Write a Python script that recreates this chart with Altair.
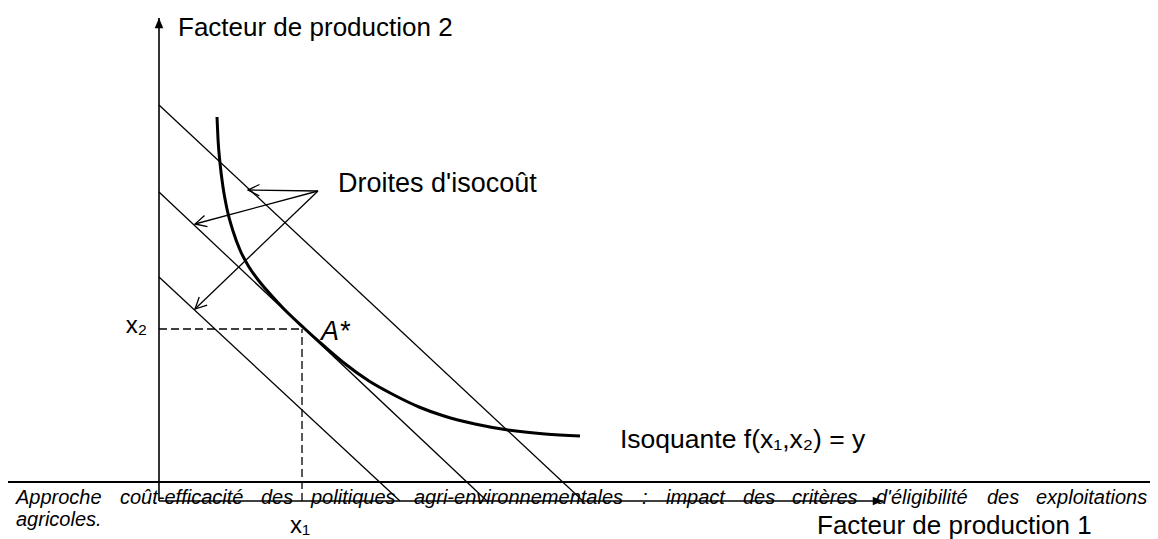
import altair as alt
import pandas as pd

# ---------------- canvas (diagram units: origin at the axes' corner) ----------------
W, H = 1142, 531
XD = [-151, 991]
YD = [-38, 493]

# ---------------- data ----------------
# isocost lines: intercepts on the factor-2 axis (v0) and the factor-1 axis (u0)
isocost_v0 = [396, 309, 224]
isocost_u0 = [424, 328, 241]

# isoquant f(x1,x2) = y
curve_u = [58, 59, 61, 64, 68, 74, 81, 90, 100, 112, 125, 145, 165, 185, 210, 235, 260, 285, 316, 349, 386, 421]
curve_v = [384, 362, 338, 314, 292, 270, 251, 234, 220, 206, 192, 173, 155, 138, 120, 106, 94, 85, 77, 71, 67, 65]

# optimum A* (dashed projections)
opt_u, opt_v = 143, 172

# arrows "Droites d'isocoût": common origin and tips on each line
arrow_from = (159, 310)
arrow_tip_u = [89, 36, 36]
arrow_tip_v = [311, 277, 192]
arrow_angle = [181, 165, 136]

# axes
yaxis_top = 483
xaxis_end = 724

# footer text (document running footer, justified)
footer_words = ["Approche", "coût-efficacité", "des", "politiques", "agri-environnementales", ":",
                "impact", "des", "critères", "d'éligibilité", "des", "exploitations"]
footer_u = [-143, -39, 102, 152, 255, 483, 507, 584, 633, 717, 828, 877]
footer_line2 = "agricoles."

FONT = "Liberation Sans"

# ---------------- tables ----------------
iso_df = pd.DataFrame({"u": [0] * 3, "v": isocost_v0, "u2": isocost_u0, "v2": [0] * 3})
curve_df = pd.DataFrame({"u": curve_u, "v": curve_v})
arrow_df = pd.DataFrame({
    "u": [arrow_from[0]] * 3, "v": [arrow_from[1]] * 3,
    "u2": arrow_tip_u, "v2": arrow_tip_v, "ang": arrow_angle,
})
dash_df = pd.DataFrame({"u": [0, opt_u], "v": [opt_v, 0], "u2": [opt_u, opt_u], "v2": [opt_v, opt_v]})
axes_df = pd.DataFrame({"u": [0, 0], "v": [0, 0], "u2": [0, xaxis_end], "v2": [yaxis_top, 0]})
axhead_df = pd.DataFrame({"u": [0, xaxis_end], "v": [yaxis_top, 0], "ang": [270, 0]})
rule_df = pd.DataFrame({"u": [-151], "v": [19], "u2": [991], "v2": [19]})

big_df = pd.DataFrame({
    "t": ["Facteur de production 2", "Facteur de production 1"],
    "u": [19, 658],
    "v": [465, -33],
})
droites_df = pd.DataFrame({"t": ["Droites d'isocoût"], "u": [179], "v": [309]})
isoq_df = pd.DataFrame({"t": ["Isoquante f(x₁,x₂) = y"], "u": [461], "v": [53]})
xlab_df = pd.DataFrame({"t": ["x₂", "x₁"], "u": [-12, 141], "v": [168, -32]})
astar_df = pd.DataFrame({"t": ["A*"], "u": [162], "v": [161]})
footer_df = pd.DataFrame({"t": footer_words + [footer_line2],
                          "u": footer_u + [-143],
                          "v": [-3] * len(footer_words) + [-25]})

# ---------------- encodings ----------------
xs = alt.Scale(domain=XD, nice=False, zero=False)
ys = alt.Scale(domain=YD, nice=False, zero=False)
X = alt.X("u:Q", scale=xs, axis=None)
Y = alt.Y("v:Q", scale=ys, axis=None)
X2 = alt.X2("u2:Q")
Y2 = alt.Y2("v2:Q")


def text_layer(df, size, style="normal", align="left"):
    return alt.Chart(df).mark_text(
        font=FONT, fontSize=size, fontStyle=style, color="black", align=align, baseline="alphabetic"
    ).encode(x=X, y=Y, text="t:N")


axes = alt.Chart(axes_df).mark_rule(color="black", strokeWidth=1.6).encode(x=X, y=Y, x2=X2, y2=Y2)
axheads = alt.Chart(axhead_df).mark_point(
    shape="M-1,-0.42L0,0L-1,0.42Z", filled=True, color="black", opacity=1, size=420, strokeWidth=0
).encode(x=X, y=Y, angle=alt.Angle("ang:Q", scale=None))

header_rule = alt.Chart(rule_df).mark_rule(color="black", strokeWidth=2).encode(x=X, y=Y, x2=X2, y2=Y2)

isocosts = alt.Chart(iso_df).mark_rule(color="black", strokeWidth=1.3).encode(x=X, y=Y, x2=X2, y2=Y2)

isoquant = alt.Chart(curve_df).mark_line(
    color="black", strokeWidth=3, interpolate="monotone"
).encode(x=X, y=Y, order="u:Q")

dashes = alt.Chart(dash_df).mark_rule(color="black", strokeWidth=1.3, strokeDash=[8, 4]).encode(
    x=X, y=Y, x2=X2, y2=Y2)

arrows = alt.Chart(arrow_df).mark_rule(color="black", strokeWidth=1.3).encode(x=X, y=Y, x2=X2, y2=Y2)
arrowheads = alt.Chart(arrow_df).mark_point(
    shape="M-1,-0.5L0,0L-1,0.5", filled=False, color="black", opacity=1, size=520, strokeWidth=1.3
).encode(x=alt.X("u2:Q", scale=xs, axis=None), y=alt.Y("v2:Q", scale=ys, axis=None),
         angle=alt.Angle("ang:Q", scale=None))

chart = alt.layer(
    header_rule,
    text_layer(footer_df, 20, "italic"),
    axes, axheads, isocosts, isoquant, dashes, arrows, arrowheads,
    text_layer(big_df, 26),
    text_layer(droites_df, 27),
    text_layer(isoq_df, 26.5),
    text_layer(xlab_df.iloc[[0]], 24, align="right"),
    text_layer(xlab_df.iloc[[1]], 24, align="center"),
    text_layer(astar_df, 27, "italic"),
).properties(
    width=W, height=H, padding=0, autosize=alt.AutoSizeParams(type="none"), background="white"
).configure_view(stroke=None)

chart.save("out.html", embed_options={"renderer": "svg", "actions": False})
